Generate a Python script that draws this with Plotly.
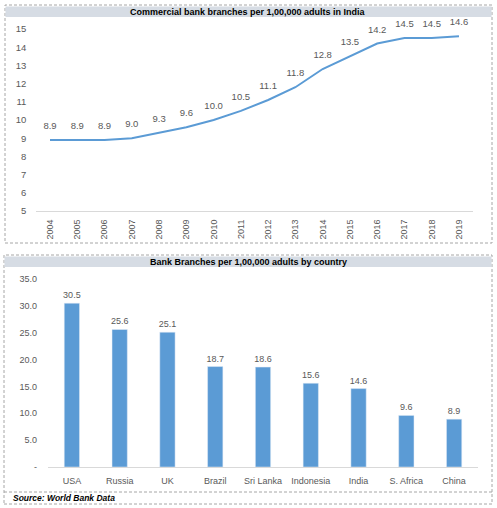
import plotly.graph_objects as go

years = [str(y) for y in range(2004, 2020)]
india_branches = [8.9, 8.9, 8.9, 9.0, 9.3, 9.6, 10.0, 10.5, 11.1, 11.8, 12.8, 13.5, 14.2, 14.5, 14.5, 14.6]

countries = ['USA', 'Russia', 'UK', 'Brazil', 'Sri Lanka', 'Indonesia', 'India', 'S. Africa', 'China']
country_branches = [30.5, 25.6, 25.1, 18.7, 18.6, 15.6, 14.6, 9.6, 8.9]

bar_ticks = [0, 5, 10, 15, 20, 25, 30, 35]
bar_ticktext = ['-', '5.0', '10.0', '15.0', '20.0', '25.0', '30.0', '35.0']

W, H = 497, 508
BLUE = '#5B9BD5'
GREY = '#595959'
FONT = 'Liberation Sans, Arial, sans-serif'


def px(x):
    return x / W


def py(y):
    return 1 - y / H


fig = go.Figure()

# invisible markers only push the value labels a bit higher above the line
fig.add_trace(go.Scatter(
    x=years, y=india_branches, mode='lines+markers+text',
    line=dict(color=BLUE, width=2),
    marker=dict(size=12, opacity=0),
    text=[f'{v:.1f}' for v in india_branches], textposition='top center',
    textfont=dict(size=9.5, color=GREY),
    cliponaxis=False, xaxis='x', yaxis='y', showlegend=False, hoverinfo='skip',
))

fig.add_trace(go.Bar(
    x=countries, y=country_branches, marker_color=BLUE,
    text=[f'{v:.1f}' for v in country_branches], textposition='outside',
    constraintext='none', textfont=dict(size=9, color=GREY),
    cliponaxis=False, xaxis='x2', yaxis='y2', showlegend=False,
))

fig.update_layout(
    width=W, height=H,
    margin=dict(l=0, r=0, t=0, b=0),
    paper_bgcolor='white', plot_bgcolor='white',
    font=dict(family=FONT, size=9, color=GREY),
    bargap=0.68,
    xaxis=dict(domain=[px(36.4), px(472.6)], type='category', range=[-0.5, 15.5],
               tickangle=-90, automargin=False,
               showgrid=False, showline=True, linecolor='#D9D9D9', linewidth=1,
               ticks='', tickfont=dict(size=9, color=GREY), anchor='y',
               ticklabelstandoff=4),
    yaxis=dict(domain=[py(211), py(29)], range=[5, 15], dtick=1, automargin=False,
               showgrid=False, zeroline=False, showline=False,
               tickfont=dict(size=9.5, color=GREY), anchor='x',
               ticklabelstandoff=9),
    xaxis2=dict(domain=[px(48), px(478)], type='category', range=[-0.5, 8.5],
                automargin=False,
                showgrid=False, showline=True, linecolor='#D9D9D9', linewidth=1,
                ticks='', tickfont=dict(size=9, color=GREY), anchor='y2',
                ticklabelstandoff=5),
    yaxis2=dict(domain=[py(467), py(279)], range=[0, 35], automargin=False,
                tickvals=bar_ticks, ticktext=bar_ticktext,
                showgrid=False, zeroline=False, showline=False,
                tickfont=dict(size=9, color=GREY), anchor='x2',
                ticklabelstandoff=10),
)

dash = dict(color='#A6A6A6', width=1, dash='3px,2px')
shapes = [
    # top panel border and title bar
    dict(type='rect', xref='paper', yref='paper', x0=px(5), x1=px(492), y0=py(243), y1=py(5),
         line=dash, fillcolor='rgba(0,0,0,0)', layer='below'),
    dict(type='rect', xref='paper', yref='paper', x0=px(5.5), x1=px(491.5), y0=py(17), y1=py(6.5),
         line=dict(width=0), fillcolor='#D6DCE4', layer='below'),
    # bottom panel border, title bar, source divider
    dict(type='rect', xref='paper', yref='paper', x0=px(4), x1=px(492), y0=py(504), y1=py(255),
         line=dash, fillcolor='rgba(0,0,0,0)', layer='below'),
    dict(type='rect', xref='paper', yref='paper', x0=px(4.5), x1=px(491.5), y0=py(267), y1=py(256.5),
         line=dict(width=0), fillcolor='#D6DCE4', layer='below'),
    dict(type='line', xref='paper', yref='paper', x0=px(4), x1=px(492), y0=py(492), y1=py(492),
         line=dash),
]
fig.update_layout(shapes=shapes)

fig.add_annotation(text='<b>Commercial bank branches per 1,00,000 adults in India</b>',
                   xref='paper', yref='paper', x=px(248), y=py(12), showarrow=False,
                   font=dict(size=9, color='black'), xanchor='center', yanchor='middle')
fig.add_annotation(text='<b>Bank Branches per 1,00,000 adults by country</b>',
                   xref='paper', yref='paper', x=px(248), y=py(262), showarrow=False,
                   font=dict(size=9, color='black'), xanchor='center', yanchor='middle')
fig.add_annotation(text='<b><i>Source: World Bank Data</i></b>',
                   xref='paper', yref='paper', x=px(11), y=py(498), showarrow=False,
                   font=dict(size=8.5, color='black'), xanchor='left', yanchor='middle')

# page body has a default 8px margin; drop it so the figure sits at the window corner
fig.write_html('out.html', config={'displayModeBar': False},
               post_script="document.body.style.margin='0';")
